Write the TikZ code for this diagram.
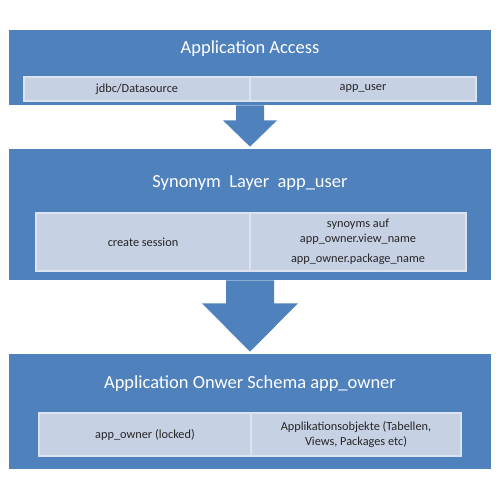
\documentclass[tikz,border=0pt]{standalone}
\usepackage{fontspec}
\setmainfont{Carlito}
\usetikzlibrary{calc}
\definecolor{bandblue}{HTML}{4F81BD}
\definecolor{cellfill}{HTML}{C6D1E4}
\definecolor{cellline}{HTML}{DCE3EF}
\definecolor{celltext}{HTML}{262626}
\begin{document}
\begin{tikzpicture}[
        x=0.02cm, y=-0.02cm,
        band/.style={fill=bandblue, inner sep=0pt, minimum width=9.64cm},
        title/.style={text=white, font=\fontsize{10.5}{12}\selectfont},
        cell/.style={fill=cellfill, draw=cellline, line width=0.6pt,
        inner sep=0pt, align=center, text=celltext,
        font=\fontsize{7}{8.5}\selectfont},
        block arrow/.style={fill=bandblue}
        ]
        \useasboundingbox (0,0) rectangle (500,500);
        % Bands
        \node[band, minimum height=1.5cm] (access) at (250,67.5) {};
        \node[band, minimum height=2.62cm] (layer) at (250,214.5) {};
        \node[band, minimum height=2.3cm] (owner) at (250,411.5) {};
        % Titles
        \node[title] (accesstitle) at (250,49) {Application Access};
        \node[title] (layertitle) at (250,183) {Synonym\ \ Layer\ \ app\_user};
        \node[title] (ownertitle) at (250,384) {Application Onwer Schema app\_owner};
        % Cells
        \node[cell, minimum width=4.52cm, minimum height=0.48cm] (jdbc) at (137,89) {jdbc/Datasource};
        \node[cell, minimum width=4.52cm, minimum height=0.48cm] (appuser) at (363,89) {app\_user};
        \node[cell, minimum width=4.28cm, minimum height=1.16cm] (session) at (143,242) {create session};
        \node[cell, minimum width=4.32cm, minimum height=1.16cm] (synonyms) at (358,242)
            {synoyms auf\\app\_owner.view\_name\\[3pt]app\_owner.package\_name};
        \node[cell, minimum width=4.24cm, minimum height=0.86cm] (locked) at (145,434.5) {app\_owner (locked)};
        \node[cell, minimum width=4.2cm, minimum height=0.86cm] (objects) at (356,434.5)
            {Applikationsobjekte (Tabellen,\\Views, Packages etc)};
        % Arrows
        \fill[block arrow] ($(access.south)+(-14,0)$) -- ($(access.south)+(-14,15)$)
            -- ($(access.south)+(-27,15)$) -- ($(layer.north)+(0,-2)$)
            -- ($(access.south)+(27,15)$) -- ($(access.south)+(14,15)$)
            -- ($(access.south)+(14,0)$) -- cycle;
        \fill[block arrow] ($(layer.south)+(-24,0)$) -- ($(layer.south)+(-24,23)$)
            -- ($(layer.south)+(-48,23)$) -- ($(owner.north)+(0,-2)$)
            -- ($(layer.south)+(48,23)$) -- ($(layer.south)+(24,23)$)
            -- ($(layer.south)+(24,0)$) -- cycle;
\end{tikzpicture}
\end{document}
